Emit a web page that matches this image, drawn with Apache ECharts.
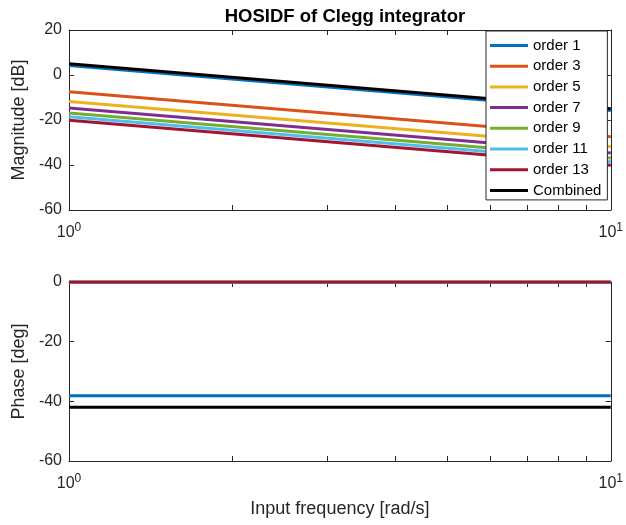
<!DOCTYPE html>
<html>
<head>
<meta charset="utf-8">
<script src="https://cdn.jsdelivr.net/npm/echarts@6/dist/echarts.min.js"></script>
<style>
  html, body { margin: 0; padding: 0; background: #fff; }
  #chart { width: 626px; height: 525px; }
</style>
</head>
<body>
<div id="chart"></div>
<script>
// frequency points (rad/s)
const freq = [1, 10];
const names = ['order 1', 'order 3', 'order 5', 'order 7', 'order 9', 'order 11', 'order 13', 'Combined'];
const colors = ['#0072BD', '#D95319', '#EDB120', '#7E2F8E', '#77AC30', '#4DBEEE', '#A2142F', '#000000'];
// magnitude [dB] at freq
const magOrder1 = [4.2, -15.8];
const magOrder3 = [-7.4, -27.4];
const magOrder5 = [-11.8, -31.8];
const magOrder7 = [-14.7, -34.7];
const magOrder9 = [-16.9, -36.9];
const magOrder11 = [-18.6, -38.6];
const magOrder13 = [-20.1, -40.1];
const magCombined = [5.0, -15.0];
// phase [deg] at freq
const phOrder1 = [-38.1, -38.1];
const phOrder3 = [0, 0];
const phOrder5 = [0, 0];
const phOrder7 = [0, 0];
const phOrder9 = [0, 0];
const phOrder11 = [0, 0];
const phOrder13 = [0, 0];
const phCombined = [-42, -42];
// x ticks (decade + minor)
const xTicks = [1, 2, 3, 4, 5, 6, 7, 8, 9, 10];

const magData = [magOrder1, magOrder3, magOrder5, magOrder7, magOrder9, magOrder11, magOrder13, magCombined];
const phData = [phOrder1, phOrder3, phOrder5, phOrder7, phOrder9, phOrder11, phOrder13, phCombined];

const axisColor = '#262626';
const font = 'Liberation Sans';

const chart = echarts.init(document.getElementById('chart'));

function xAxisDef(gridIndex, labels, pos) {
  return {
    type: 'log', logBase: 10, min: 1, max: 10, gridIndex: gridIndex, position: pos,
    axisLine: { show: true, onZero: false, lineStyle: { color: axisColor } },
    axisTick: { show: true, inside: true, length: 5, lineStyle: { color: axisColor }, customValues: xTicks },
    axisLabel: {
      show: labels, color: axisColor, fontFamily: font, fontSize: 16, margin: 12,
      formatter: function (v) { return '10{sup|' + Math.round(Math.log10(v)) + '}'; },
      rich: { sup: { fontSize: 12, fontFamily: font, color: axisColor, padding: [0, 0, 10, 0] } }
    },
    splitLine: { show: false }
  };
}
function yAxisDef(gridIndex, min, max, name, right) {
  return {
    type: 'value', gridIndex: gridIndex, min: min, max: max, interval: 20,
    position: right ? 'right' : 'left',
    name: right ? '' : name, nameLocation: 'middle', nameGap: 28,
    nameTextStyle: { color: axisColor, fontFamily: font, fontSize: 18 },
    axisLine: { show: true, onZero: false, lineStyle: { color: axisColor } },
    axisTick: { show: true, inside: true, length: 5, lineStyle: { color: axisColor } },
    axisLabel: { show: !right, color: axisColor, fontFamily: font, fontSize: 16, margin: 7 },
    splitLine: { show: false }
  };
}

const series = [];
names.forEach(function (n, i) {
  series.push({
    name: n, type: 'line', xAxisIndex: 0, yAxisIndex: 0, showSymbol: false, symbol: 'none',
    lineStyle: { width: 3, color: colors[i] }, itemStyle: { color: colors[i] },
    data: freq.map(function (f, k) { return [f, magData[i][k]]; })
  });
});
names.forEach(function (n, i) {
  series.push({
    name: n, type: 'line', xAxisIndex: 2, yAxisIndex: 2, showSymbol: false, symbol: 'none',
    lineStyle: { width: 3, color: colors[i] }, itemStyle: { color: colors[i] },
    data: freq.map(function (f, k) { return [f, phData[i][k]]; })
  });
});

const bottomX = xAxisDef(1, true, 'bottom');
bottomX.name = 'Input frequency [rad/s]';
bottomX.nameLocation = 'middle';
bottomX.nameGap = 39;
bottomX.nameTextStyle = { color: axisColor, fontFamily: font, fontSize: 18 };

const option = {
  animation: false,
  backgroundColor: '#fff',
  title: {
    text: 'HOSIDF of Clegg integrator', left: 340, top: 2, textAlign: 'center',
    textStyle: { fontFamily: font, fontSize: 18.5, fontWeight: 'bold', color: '#000' }
  },
  legend: {
    data: names, orient: 'vertical', left: 486, top: 31,
    backgroundColor: '#fff', borderColor: axisColor, borderWidth: 1,
    padding: [7, 6, 2, 4], itemGap: 5.7, itemWidth: 38, itemHeight: 3, icon: 'rect',
    textStyle: { fontFamily: font, fontSize: 15, color: '#000', lineHeight: 15 },
    selectedMode: false
  },
  grid: [
    { left: 69, top: 30, width: 546, height: 180 },
    { left: 69, top: 282, width: 546, height: 179 }
  ],
  xAxis: [
    xAxisDef(0, true, 'bottom'),
    xAxisDef(0, false, 'top'),
    bottomX,
    xAxisDef(1, false, 'top')
  ],
  yAxis: [
    yAxisDef(0, -60, 20, 'Magnitude [dB]', false),
    yAxisDef(0, -60, 20, '', true),
    yAxisDef(1, -60, 0, 'Phase [deg]', false),
    yAxisDef(1, -60, 0, '', true)
  ],
  series: series
};
chart.setOption(option);
</script>
</body>
</html>
